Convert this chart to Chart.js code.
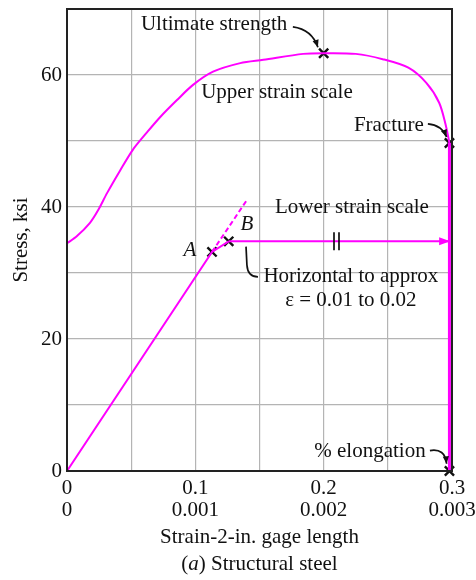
<!DOCTYPE html>
<html>
<head>
<meta charset="utf-8">
<script src="https://cdn.jsdelivr.net/npm/chart.js@4.4.1/dist/chart.umd.min.js"></script>
<style>
  body { margin: 0; background: #fff; }
  canvas { display: block; }
</style>
</head>
<body>
<canvas id="steel" width="476" height="580"></canvas>
<script>
// curve read on the upper strain scale (0 - 0.3)
const upperStrain = [0, 0.0078, 0.0179, 0.0242, 0.0312, 0.0413, 0.0514, 0.0623, 0.0725, 0.0857, 0.0982,
  0.1138, 0.135, 0.153, 0.184, 0.2, 0.225, 0.246, 0.266, 0.28, 0.29, 0.295, 0.298];
const upperStress = [34.5, 35.6, 37.6, 39.5, 42.1, 45.5, 48.7, 51.3, 53.6, 56.2, 58.5,
  60.5, 61.8, 62.3, 63.2, 63.3, 63.2, 62.4, 61.1, 58.8, 55.8, 52.5, 49.7];
const dropStrain = [0.298, 0.298];
const dropStress = [49.7, 0];

// curve read on the lower strain scale (0 - 0.003)
const elasticStrain = [0, 0.00113, 0.00126];
const elasticStress = [0, 33.2, 34.8];
const dashStrain = [0.00113, 0.0014];
const dashStress = [33.2, 41];
const plateauStrain = [0.00126, 0.00297];
const plateauStress = [34.8, 34.8];

// marked points (x)
const upperMarkStrain = [0.2, 0.298, 0.298];
const upperMarkStress = [63.3, 49.7, 0];
const lowerMarkStrain = [0.00113, 0.00126];
const lowerMarkStress = [33.2, 34.8];

const upperTickLabels = ['0', '0.1', '0.2', '0.3'];
const lowerTickLabels = ['0', '0.001', '0.002', '0.003'];
const stressTickLabels = ['0', '20', '40', '60'];

const FONT = "'Liberation Serif', 'Times New Roman', serif";
const PINK = '#ff00ff';
const INK = '#111';

function pts(xs, ys) {
  return xs.map((x, i) => ({x: x, y: ys[i]}));
}

// annotation text, placed in upper-scale data units
const notes = [
  {text: 'Ultimate strength', x: 0.1146, y: 67.6},
  {text: 'Upper strain scale', x: 0.1636, y: 57.3},
  {text: 'Fracture', x: 0.2508, y: 52.4},
  {text: 'Lower strain scale', x: 0.2220, y: 40.0},
  {text: 'A', x: 0.0958, y: 33.4, italic: true},
  {text: 'B', x: 0.1402, y: 37.3, italic: true},
  {text: 'Horizontal to approx', x: 0.2212, y: 29.4},
  {text: '\u03b5 = 0.01 to 0.02', x: 0.2212, y: 25.8},
  {text: '% elongation', x: 0.2361, y: 2.9}
];

const leaders = [
  {start: [0.176, 67.3], segs: [['Q', 0.1909, 66.9, 0.1955, 64.2]], head: true},
  {start: [0.2812, 52.6], segs: [['Q', 0.2921, 52.4, 0.2958, 50.6]], head: true},
  {start: [0.2828, 3.1], segs: [['Q', 0.2945, 3.5, 0.2958, 1.1]], head: true},
  {start: [0.1395, 34.0], segs: [['L', 0.1402, 31.2], ['Q', 0.1408, 29.4, 0.1488, 29.4]], head: false}
];

const notesPlugin = {
  id: 'notes',
  afterDatasetsDraw(chart) {
    const {ctx, chartArea: a} = chart;
    const sx = chart.scales.x, sy = chart.scales.y, sl = chart.scales.xl;
    const px = v => sx.getPixelForValue(v);
    const py = v => sy.getPixelForValue(v);
    ctx.save();

    // arrowhead at the end of the plateau line
    const ex = sl.getPixelForValue(plateauStrain[1]);
    const ey = py(plateauStress[1]);
    ctx.fillStyle = PINK;
    ctx.beginPath();
    ctx.moveTo(ex + 2, ey);
    ctx.lineTo(ex - 9, ey - 4);
    ctx.lineTo(ex - 9, ey + 4);
    ctx.closePath();
    ctx.fill();

    // break mark on the plateau
    const bx = sl.getPixelForValue(0.0021);
    ctx.strokeStyle = INK;
    ctx.lineWidth = 1.7;
    ctx.beginPath();
    ctx.moveTo(bx - 2.5, ey - 9); ctx.lineTo(bx - 2.5, ey + 9);
    ctx.moveTo(bx + 2.5, ey - 9); ctx.lineTo(bx + 2.5, ey + 9);
    ctx.stroke();

    // leader lines
    ctx.lineWidth = 1.7;
    leaders.forEach(l => {
      ctx.beginPath();
      ctx.moveTo(px(l.start[0]), py(l.start[1]));
      let prev = [px(l.start[0]), py(l.start[1])], last = prev;
      l.segs.forEach(s => {
        if (s[0] === 'L') {
          prev = last;
          last = [px(s[1]), py(s[2])];
          ctx.lineTo(last[0], last[1]);
        } else {
          prev = [px(s[1]), py(s[2])];
          last = [px(s[3]), py(s[4])];
          ctx.quadraticCurveTo(prev[0], prev[1], last[0], last[1]);
        }
      });
      ctx.stroke();
      if (l.head) {
        const ang = Math.atan2(last[1] - prev[1], last[0] - prev[0]);
        ctx.fillStyle = INK;
        ctx.beginPath();
        ctx.moveTo(last[0], last[1]);
        ctx.lineTo(last[0] - 8 * Math.cos(ang - 0.4), last[1] - 8 * Math.sin(ang - 0.4));
        ctx.lineTo(last[0] - 8 * Math.cos(ang + 0.4), last[1] - 8 * Math.sin(ang + 0.4));
        ctx.closePath();
        ctx.fill();
      }
    });

    // texts
    ctx.fillStyle = INK;
    ctx.textAlign = 'center';
    ctx.textBaseline = 'middle';
    notes.forEach(n => {
      ctx.font = (n.italic ? 'italic ' : '') + '21px ' + FONT;
      ctx.fillText(n.text, px(n.x), py(n.y));
    });

    // plot frame
    ctx.strokeStyle = '#222';
    ctx.lineWidth = 2;
    ctx.strokeRect(a.left, a.top, a.right - a.left, a.bottom - a.top);

    // caption
    const cx = (a.left + a.right) / 2, cy = 564;
    const parts = [['(', ''], ['a', 'italic '], [') Structural steel', '']];
    let total = 0;
    parts.forEach(p => { ctx.font = p[1] + '21px ' + FONT; total += ctx.measureText(p[0]).width; });
    let x0 = cx - total / 2;
    ctx.textAlign = 'left';
    parts.forEach(p => {
      ctx.font = p[1] + '21px ' + FONT;
      ctx.fillText(p[0], x0, cy);
      x0 += ctx.measureText(p[0]).width;
    });
    ctx.restore();
  }
};

const line = (data, axis, extra) => Object.assign({
  data: data,
  xAxisID: axis,
  showLine: true,
  borderColor: PINK,
  borderWidth: 2,
  pointRadius: 0,
  fill: false
}, extra || {});

const marks = (data, axis) => ({
  data: data,
  xAxisID: axis,
  showLine: false,
  pointStyle: 'crossRot',
  pointRadius: 6.5,
  borderColor: INK,
  borderWidth: 2.4,
  clip: false
});

new Chart(document.getElementById('steel'), {
  type: 'scatter',
  data: {
    datasets: [
      line(pts(upperStrain, upperStress), 'x', {tension: 0.3}),
      line(pts(dropStrain, dropStress), 'x', {borderWidth: 3}),
      line(pts(elasticStrain, elasticStress), 'xl'),
      line(pts(dashStrain, dashStress), 'xl', {borderDash: [5, 3]}),
      line(pts(plateauStrain, plateauStress), 'xl'),
      marks(pts(upperMarkStrain, upperMarkStress), 'x'),
      marks(pts(lowerMarkStrain, lowerMarkStress), 'xl')
    ]
  },
  options: {
    responsive: false,
    animation: false,
    layout: {padding: {top: 9, right: 24, bottom: 30, left: 0}},
    plugins: {legend: {display: false}, tooltip: {enabled: false}},
    scales: {
      x: {
        type: 'linear',
        position: 'bottom',
        min: 0,
        max: 0.3,
        border: {display: false},
        grid: {color: '#b4b4b4', lineWidth: 1.2, drawTicks: false},
        ticks: {
          stepSize: 0.05,
          padding: 6,
          maxRotation: 0,
          autoSkip: false,
          color: INK,
          font: {family: FONT, size: 21, lineHeight: 1.05},
          callback: (v, i) => i % 2 === 0 ? [upperTickLabels[i / 2], lowerTickLabels[i / 2]] : ''
        },
        title: {
          display: true,
          text: 'Strain-2-in. gage length',
          color: INK,
          font: {family: FONT, size: 21},
          padding: 0
        },
        afterFit: s => { s.height = 79; s.paddingLeft = 0; s.paddingRight = 0; }
      },
      xl: {
        type: 'linear',
        position: 'bottom',
        min: 0,
        max: 0.003,
        display: false
      },
      y: {
        min: 0,
        max: 70,
        border: {display: false},
        grid: {color: '#b4b4b4', lineWidth: 1.2, drawTicks: false},
        ticks: {
          stepSize: 10,
          padding: 5,
          color: INK,
          font: {family: FONT, size: 21},
          callback: v => (v % 20 === 0 && v <= 60) ? stressTickLabels[v / 20] : ''
        },
        title: {
          display: true,
          text: 'Stress, ksi',
          color: INK,
          font: {family: FONT, size: 21},
          padding: {top: 9, bottom: 0}
        },
        afterFit: s => { s.width = 67; s.paddingTop = 0; s.paddingBottom = 0; }
      }
    }
  },
  plugins: [notesPlugin]
});
</script>
</body>
</html>
